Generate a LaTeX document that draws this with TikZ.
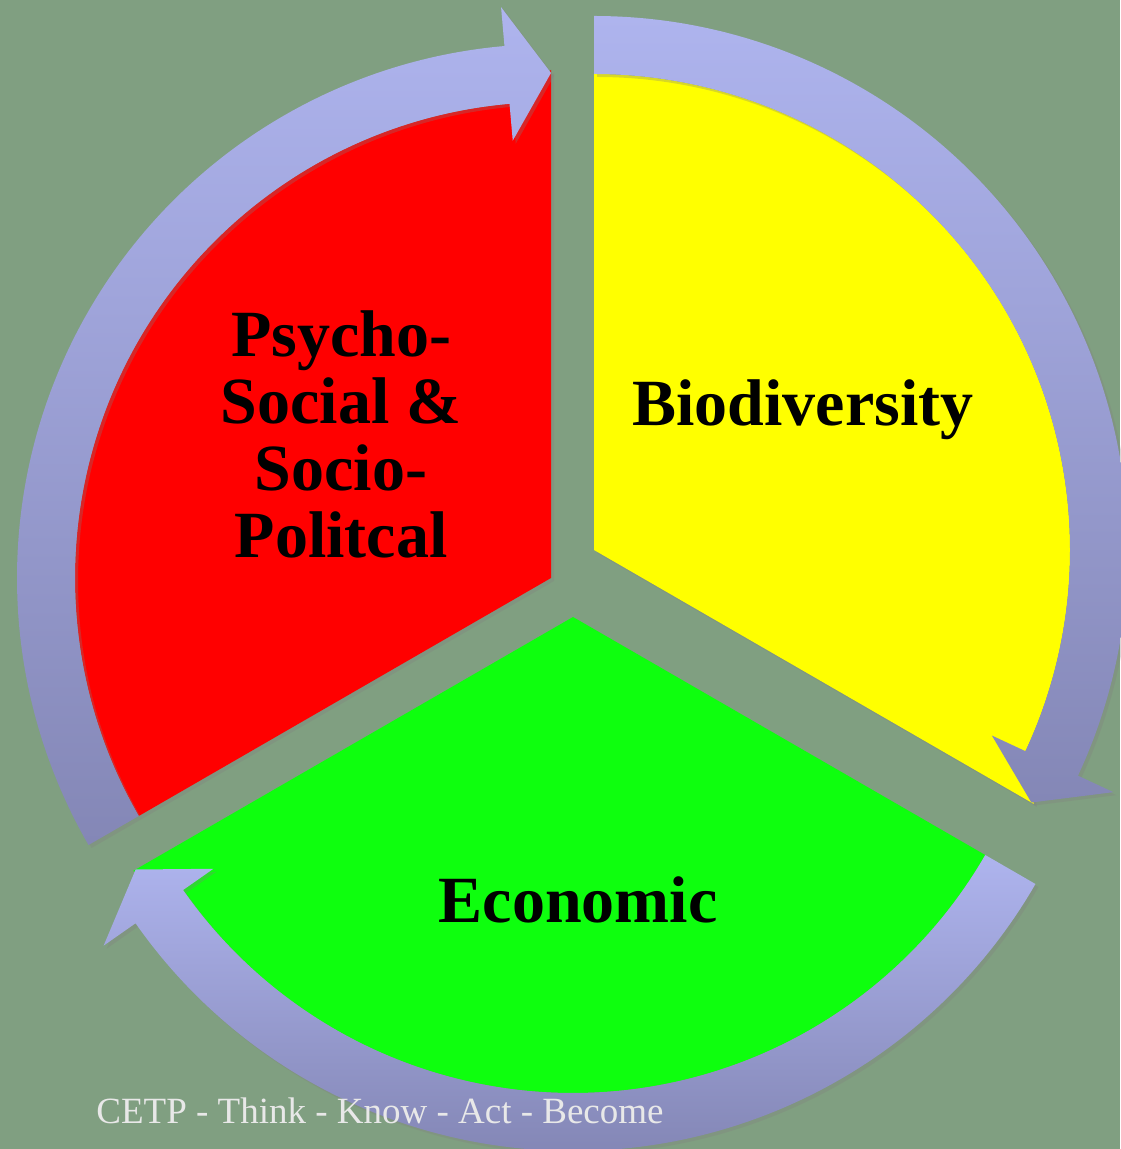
\documentclass[tikz,border=0pt]{standalone}
\usepackage{fontspec}
\setmainfont{Liberation Serif}
\usetikzlibrary{shadows}

\definecolor{bgsage}{RGB}{128,159,129}
\definecolor{bandtop}{RGB}{174,180,238}
\definecolor{bandbot}{RGB}{132,135,182}
\definecolor{psyred}{RGB}{255,0,0}
\definecolor{bioyellow}{RGB}{255,255,0}
\definecolor{ecogreen}{RGB}{14,255,14}
\definecolor{footgray}{RGB}{232,232,232}

\begin{document}
\begin{tikzpicture}[
            x=1pt,y=1pt,
            sector/.style={drop shadow={opacity=.3,shadow xshift=3pt,shadow yshift=-3pt}},
            band/.style={top color=bandtop,bottom color=bandbot,
                drop shadow={opacity=.3,shadow xshift=3pt,shadow yshift=-3pt}},
            heading/.style={font=\bfseries\fontsize{66}{67}\selectfont,align=center,text=black}
        ]
        \fill[bgsage] (0,0) rectangle (1120,1149);
        \useasboundingbox (0,0) rectangle (1120,1149);
        % the three sectors (corner at the arrow tip reaches out under the head)
        \foreach \cx/\cy/\ta/\tb/\col in {551/571/210/90/psyred, 594/599/90/-30/bioyellow,
                573/532/330/210/ecogreen}
            \fill[\col,sector,shift={(\cx,\cy)}] (0,0) -- (\tb:508) -- (\tb+5:476)
                arc[start angle=\tb+5,end angle=\ta,radius=476] -- cycle;
        % cycle arrows
        \foreach \cx/\cy/\ta/\tb in {551/571/210/90, 594/599/90/-30, 573/532/330/210}
            \shade[band,shift={(\cx,\cy)}] (\ta:534)
                arc[start angle=\ta,end angle=\tb+5,radius=534]
                -- (\tb+5:573) -- (\tb:505) -- (\tb+5:439) -- (\tb+5:476)
                arc[start angle=\tb+5,end angle=\ta,radius=476] -- cycle;
        % labels
        \node[heading] (psycho) at (341,715) {Psycho-\\Social \&\\Socio-\\Politcal};
        \node[heading] (bio) at (803,739) {Biodiversity};
        \node[heading] (econ) at (578,249) {Economic};
        \node[text=footgray,font=\fontsize{37}{40}\selectfont] (footer) at (380,38)
            {CETP - Think - Know - Act - Become};
\end{tikzpicture}
\end{document}
